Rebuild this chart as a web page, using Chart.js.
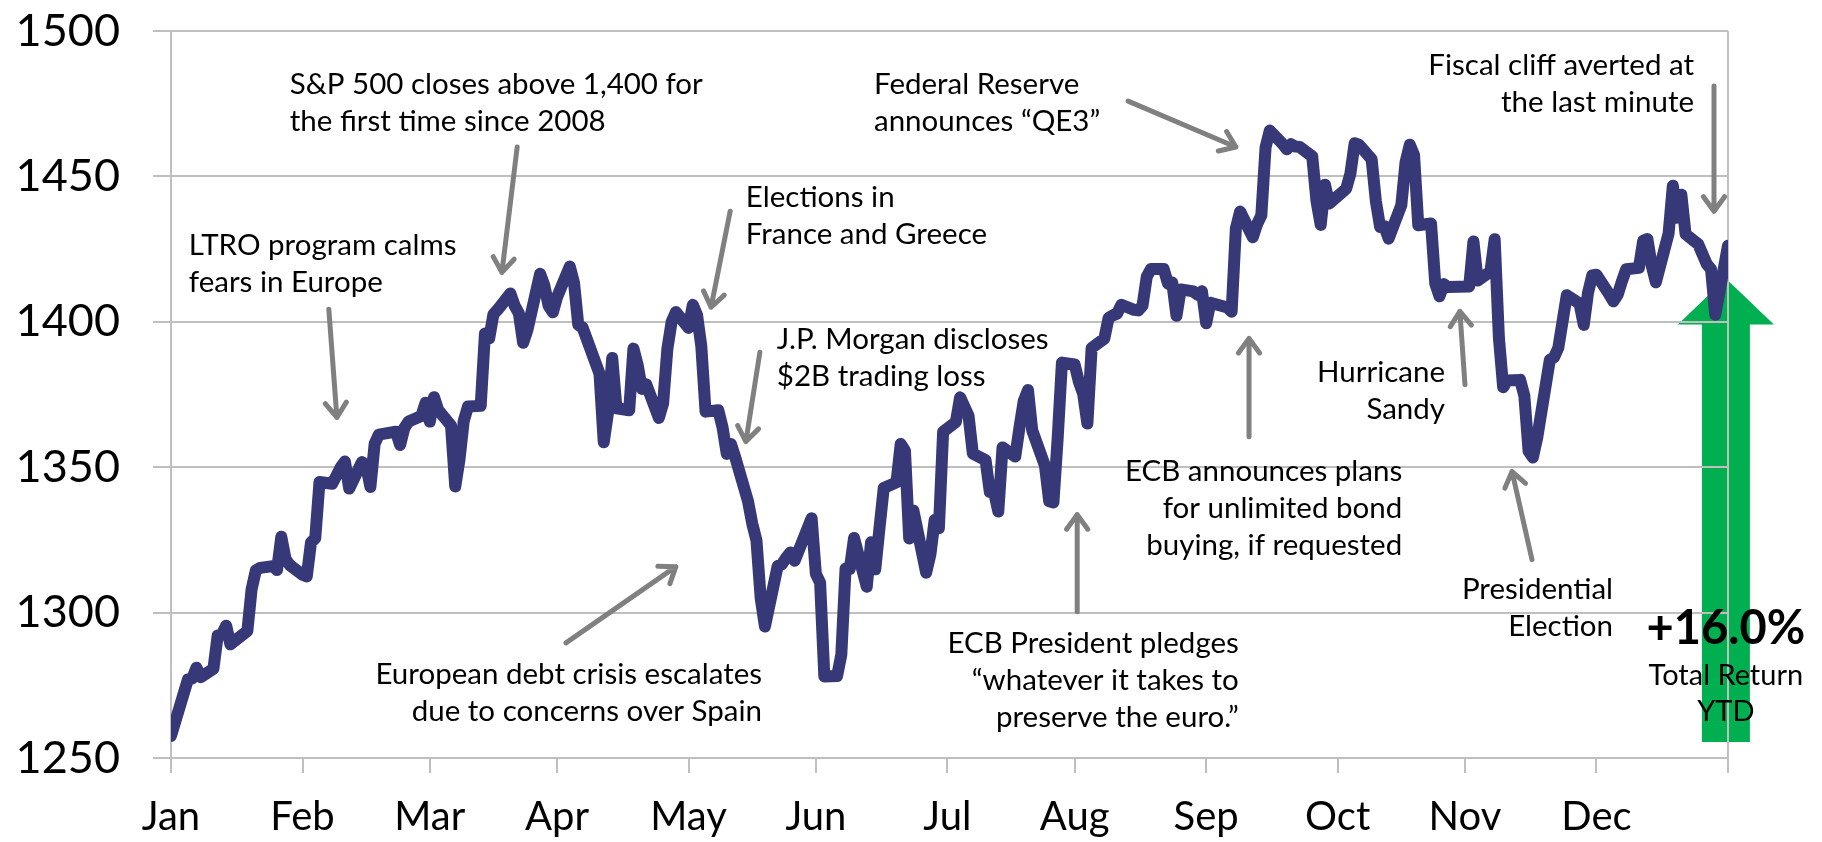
<!DOCTYPE html>
<html>
<head>
<meta charset="utf-8">
<title>S&amp;P 500 in 2012</title>
<script src="https://cdn.jsdelivr.net/npm/chart.js@4/dist/chart.umd.min.js"></script>
<style>
  html, body { margin: 0; padding: 0; background: #fff; }
  #wrap { width: 1822px; height: 842px; position: relative; }
</style>
</head>
<body>
<div id="wrap"><canvas id="spxChart"></canvas></div>
<script>
// S&P 500 daily closes, one row per month (first row is the last session of 2011)
const sessionMonths = ['2011-12', '2012-01', '2012-02', '2012-03', '2012-04', '2012-05', '2012-06',
                       '2012-07', '2012-08', '2012-09', '2012-10', '2012-11', '2012-12'];
const sessionDays = [
  [30],
  [3, 4, 5, 6, 9, 10, 11, 12, 13, 17, 18, 19, 20, 23, 24, 25, 26, 27, 30, 31],
  [1, 2, 3, 6, 7, 8, 9, 10, 13, 14, 15, 16, 17, 21, 22, 23, 24, 27, 28, 29],
  [1, 2, 5, 6, 7, 8, 9, 12, 13, 14, 15, 16, 19, 20, 21, 22, 23, 26, 27, 28, 29, 30],
  [2, 3, 4, 5, 9, 10, 11, 12, 13, 16, 17, 18, 19, 20, 23, 24, 25, 26, 27, 30],
  [1, 2, 3, 4, 7, 8, 9, 10, 11, 14, 15, 16, 17, 18, 21, 22, 23, 24, 25, 29, 30, 31],
  [1, 4, 5, 6, 7, 8, 11, 12, 13, 14, 15, 18, 19, 20, 21, 22, 25, 26, 27, 28, 29],
  [2, 3, 5, 6, 9, 10, 11, 12, 13, 16, 17, 18, 19, 20, 23, 24, 25, 26, 27, 30, 31],
  [1, 2, 3, 6, 7, 8, 9, 10, 13, 14, 15, 16, 17, 20, 21, 22, 23, 24, 27, 28, 29, 30, 31],
  [4, 5, 6, 7, 10, 11, 12, 13, 14, 17, 18, 19, 20, 21, 24, 25, 26, 27, 28],
  [1, 2, 3, 4, 5, 8, 9, 10, 11, 12, 15, 16, 17, 18, 19, 22, 23, 24, 25, 26, 31],
  [1, 2, 5, 6, 7, 8, 9, 12, 13, 14, 15, 16, 19, 20, 21, 23, 26, 27, 28, 29, 30],
  [3, 4, 5, 6, 7, 10, 11, 12, 13, 14, 17, 18, 19, 20, 21, 24, 26, 27, 28, 31]
];
const sessionCloses = [
  [1257.60],
  [1277.06, 1277.30, 1281.06, 1277.81, 1280.70, 1292.08, 1292.48, 1295.50, 1289.09, 1293.67,
   1308.04, 1314.50, 1315.38, 1316.00, 1314.65, 1326.06, 1318.43, 1316.33, 1313.01, 1312.41],
  [1324.09, 1325.54, 1344.90, 1344.33, 1347.05, 1349.96, 1351.95, 1342.64, 1351.77, 1350.50,
   1343.23, 1358.04, 1361.23, 1362.21, 1357.66, 1363.46, 1365.74, 1367.59, 1372.18, 1365.68],
  [1374.09, 1369.63, 1364.33, 1343.36, 1352.63, 1365.91, 1370.87, 1371.09, 1395.95, 1394.28, 1402.60,
   1404.17, 1409.75, 1405.52, 1402.89, 1392.78, 1397.11, 1416.51, 1412.52, 1405.54, 1403.28, 1408.47],
  [1419.04, 1413.38, 1398.96, 1398.08, 1382.20, 1358.59, 1368.71, 1387.57, 1370.26, 1369.57,
   1390.78, 1385.14, 1376.92, 1378.53, 1366.94, 1371.97, 1390.69, 1399.98, 1403.36, 1397.91],
  [1405.82, 1402.31, 1391.57, 1369.10, 1369.58, 1363.72, 1354.58, 1357.99, 1353.39, 1338.35, 1330.66,
   1324.80, 1304.86, 1295.22, 1315.99, 1316.63, 1318.86, 1320.68, 1317.82, 1332.42, 1313.32, 1310.33],
  [1278.04, 1278.18, 1285.50, 1315.13, 1314.99, 1325.66, 1308.93, 1324.18, 1314.88, 1329.10, 1342.84,
   1344.78, 1357.98, 1355.69, 1325.51, 1335.02, 1313.72, 1319.99, 1331.85, 1329.04, 1362.16],
  [1365.51, 1374.02, 1367.58, 1354.68, 1352.46, 1341.47, 1341.45, 1334.76, 1356.78, 1353.64, 1363.67,
   1372.78, 1376.51, 1362.66, 1350.52, 1338.31, 1337.89, 1360.02, 1385.97, 1385.30, 1379.32],
  [1375.32, 1365.00, 1390.99, 1394.23, 1401.35, 1402.22, 1402.80, 1405.87, 1404.11, 1403.93, 1405.53, 1415.51,
   1418.16, 1418.13, 1413.17, 1413.49, 1402.08, 1411.13, 1410.44, 1409.30, 1410.49, 1399.48, 1406.58],
  [1404.94, 1403.44, 1432.12, 1437.92, 1429.08, 1433.56, 1436.56, 1459.99, 1465.77, 1461.19,
   1459.32, 1461.05, 1460.26, 1460.15, 1456.89, 1441.59, 1433.32, 1447.15, 1440.67],
  [1444.49, 1445.75, 1450.99, 1461.40, 1460.93, 1455.88, 1441.48, 1432.56, 1432.84, 1428.59, 1440.13,
   1454.92, 1460.91, 1457.34, 1433.19, 1433.82, 1413.11, 1408.75, 1412.97, 1411.94, 1412.16],
  [1427.59, 1414.20, 1417.26, 1428.39, 1394.53, 1377.51, 1379.85, 1380.03, 1374.53, 1355.49, 1353.33,
   1359.88, 1386.89, 1387.81, 1391.03, 1409.15, 1406.29, 1398.94, 1409.93, 1415.95, 1416.18],
  [1409.46, 1407.05, 1409.28, 1413.94, 1418.07, 1418.55, 1427.84, 1428.48, 1419.45, 1413.58,
   1430.36, 1446.79, 1435.81, 1443.69, 1430.15, 1426.66, 1419.83, 1418.10, 1402.43, 1426.19]
];

// axis ticks: one per month, the last one closes the plot on the right
const monthLabels = ['Jan', 'Feb', 'Mar', 'Apr', 'May', 'Jun', 'Jul', 'Aug', 'Sep', 'Oct', 'Nov', 'Dec'];
const monthTickDates = ['2011-12-30', '2012-01-30', '2012-02-29', '2012-03-30', '2012-04-30', '2012-05-30',
                        '2012-06-30', '2012-07-30', '2012-08-30', '2012-09-30', '2012-10-30', '2012-11-30',
                        '2012-12-31'];
const yTicks = [1250, 1300, 1350, 1400, 1450, 1500];

const totalReturnText = '+16.0%';

// x is counted in calendar days from the first session
const DAY = 86400000;
const origin = Date.UTC(2011, 11, 30);
function dayOf(iso) {
  const [y, m, d] = iso.split('-').map(Number);
  return (Date.UTC(y, m - 1, d) - origin) / DAY;
}

const points = [];
sessionMonths.forEach((ym, i) => {
  sessionDays[i].forEach((d, j) => {
    points.push({ x: dayOf(ym + '-' + String(d).padStart(2, '0')), y: sessionCloses[i][j] });
  });
});
const tickDays = monthTickDates.map(dayOf);
const lastDay = tickDays[tickDays.length - 1];

// event notes, anchored in (day, index level); y is the middle of the first line
const notes = [
  { lines: ['S&P 500 closes above 1,400 for', 'the first time since 2008'], x: 28.0, y: 1481.7, align: 'left' },
  { lines: ['LTRO program calms', 'fears in Europe'], x: 4.2, y: 1426.3, align: 'left' },
  { lines: ['Elections in', 'France and Greece'], x: 135.5, y: 1442.8, align: 'left' },
  { lines: ['J.P. Morgan discloses', '$2B trading loss'], x: 142.8, y: 1393.9, align: 'left' },
  { lines: ['Federal Reserve', 'announces \u201cQE3\u201d'], x: 165.7, y: 1481.7, align: 'left' },
  { lines: ['Fiscal cliff averted at', 'the last minute'], x: 359.0, y: 1488.0, align: 'right' },
  { lines: ['Hurricane', 'Sandy'], x: 300.3, y: 1382.6, align: 'right' },
  { lines: ['ECB announces plans', 'for unlimited bond', 'buying, if requested'], x: 290.2, y: 1348.5, align: 'right' },
  { lines: ['ECB President pledges', '\u201cwhatever it takes to', 'preserve the euro.\u201d'], x: 251.7, y: 1289.3, align: 'right' },
  { lines: ['European debt crisis escalates', 'due to concerns over Spain'], x: 139.3, y: 1278.6, align: 'right' },
  { lines: ['Presidential', 'Election'], x: 339.9, y: 1307.9, align: 'right' }
];
// pointer arrows: [from, to], the head sits on "to"
const pointers = [
  [[81.6, 1460.1], [78.0, 1417.0]],
  [[37.2, 1404.3], [39.1, 1367.1]],
  [[131.8, 1438.0], [127.3, 1405.0]],
  [[138.8, 1389.5], [135.5, 1358.8]],
  [[225.6, 1475.9], [251.0, 1460.1]],
  [[363.7, 1481.1], [363.7, 1438.0]],
  [[305.0, 1378.4], [303.8, 1403.6]],
  [[254.1, 1360.5], [254.1, 1394.3]],
  [[213.6, 1300.3], [213.6, 1333.7]],
  [[93.1, 1289.6], [119.0, 1315.8]],
  [[320.8, 1318.2], [316.1, 1348.5]]
];
// big green up arrow for the year's gain
const gainArrow = { x: 366.5, from: 1255.5, neck: 1399.1, tip: 1414.9 };
const gainLabel = { x: 366.5, y: 1294.4, sub: ['Total Return', 'YTD'] };

const GRID = '#BFBFBF';
const FONT = 'Lato, "Open Sans", sans-serif';

const callouts = {
  id: 'callouts',
  beforeDraw(chart) {
    const { ctx, scales: { x, y } } = chart;
    const cx = x.getPixelForValue(gainArrow.x);
    const y0 = y.getPixelForValue(gainArrow.from);
    const yn = y.getPixelForValue(gainArrow.neck);
    const yt = y.getPixelForValue(gainArrow.tip);
    ctx.save();
    ctx.fillStyle = '#00B050';
    ctx.beginPath();
    ctx.moveTo(cx - 24, y0);
    ctx.lineTo(cx - 24, yn);
    ctx.lineTo(cx - 48, yn);
    ctx.lineTo(cx, yt);
    ctx.lineTo(cx + 48, yn);
    ctx.lineTo(cx + 24, yn);
    ctx.lineTo(cx + 24, y0);
    ctx.closePath();
    ctx.fill();
    ctx.restore();
  },
  afterDraw(chart) {
    const { ctx, scales: { x, y } } = chart;
    ctx.save();

    // arrows
    ctx.strokeStyle = '#808080';
    ctx.lineWidth = 5;
    ctx.lineCap = 'round';
    ctx.lineJoin = 'round';
    pointers.forEach(([a, b]) => {
      const x1 = x.getPixelForValue(a[0]), y1 = y.getPixelForValue(a[1]);
      const x2 = x.getPixelForValue(b[0]), y2 = y.getPixelForValue(b[1]);
      const ang = Math.atan2(y2 - y1, x2 - x1);
      const len = 18, spread = Math.PI / 5;
      ctx.beginPath();
      ctx.moveTo(x1, y1);
      ctx.lineTo(x2, y2);
      ctx.moveTo(x2 - len * Math.cos(ang - spread), y2 - len * Math.sin(ang - spread));
      ctx.lineTo(x2, y2);
      ctx.lineTo(x2 - len * Math.cos(ang + spread), y2 - len * Math.sin(ang + spread));
      ctx.stroke();
    });

    // notes
    ctx.fillStyle = '#000';
    ctx.textBaseline = 'middle';
    ctx.font = '29.5px ' + FONT;
    notes.forEach(n => {
      ctx.textAlign = n.align;
      const px = x.getPixelForValue(n.x), py = y.getPixelForValue(n.y);
      n.lines.forEach((t, i) => ctx.fillText(t, px, py + i * 37));
    });

    // total return label
    const gx = x.getPixelForValue(gainLabel.x), gy = y.getPixelForValue(gainLabel.y);
    ctx.textAlign = 'center';
    ctx.font = 'bold 47px ' + FONT;
    ctx.fillText(totalReturnText, gx, gy);
    ctx.font = '29px ' + FONT;
    gainLabel.sub.forEach((t, i) => ctx.fillText(t, gx, gy + 47 + i * 36));
    ctx.restore();
  }
};

new Chart(document.getElementById('spxChart'), {
  type: 'line',
  data: {
    datasets: [{
      label: 'S&P 500',
      data: points,
      borderColor: '#363877',
      borderWidth: 12,
      borderJoinStyle: 'round',
      borderCapStyle: 'round',
      pointRadius: 0,
      tension: 0,
      fill: false
    }]
  },
  options: {
    responsive: true,
    maintainAspectRatio: false,
    animation: false,
    layout: { padding: { top: 31, right: 94, bottom: 0, left: 0 } },
    plugins: { legend: { display: false }, tooltip: { enabled: false } },
    scales: {
      x: {
        type: 'linear',
        min: 0,
        max: lastDay,
        afterBuildTicks: s => { s.ticks = tickDays.map(v => ({ value: v })); },
        afterFit: s => { s.height = 84; },
        ticks: {
          autoSkip: false,
          maxRotation: 0,
          padding: 20,
          color: '#000',
          font: { family: FONT, size: 40 },
          callback: (v, i) => monthLabels[i] || ''
        },
        grid: {
          drawOnChartArea: true,
          lineWidth: 2,
          tickLength: 15,
          tickColor: GRID,
          color: c => (c.tick && c.tick.value === lastDay ? GRID : 'rgba(0,0,0,0)')
        },
        border: { display: true, color: GRID, width: 2 }
      },
      y: {
        min: 1250,
        max: 1500,
        afterBuildTicks: s => { s.ticks = yTicks.map(v => ({ value: v })); },
        afterFit: s => { s.width = 171; s.paddingTop = 0; s.paddingBottom = 0; },
        ticks: {
          padding: 33,
          color: '#000',
          font: { family: FONT, size: 45 },
          callback: v => String(v)
        },
        grid: { color: GRID, lineWidth: 2, tickLength: 18 },
        border: { display: true, color: GRID, width: 2 }
      }
    }
  },
  plugins: [callouts]
});
</script>
</body>
</html>
